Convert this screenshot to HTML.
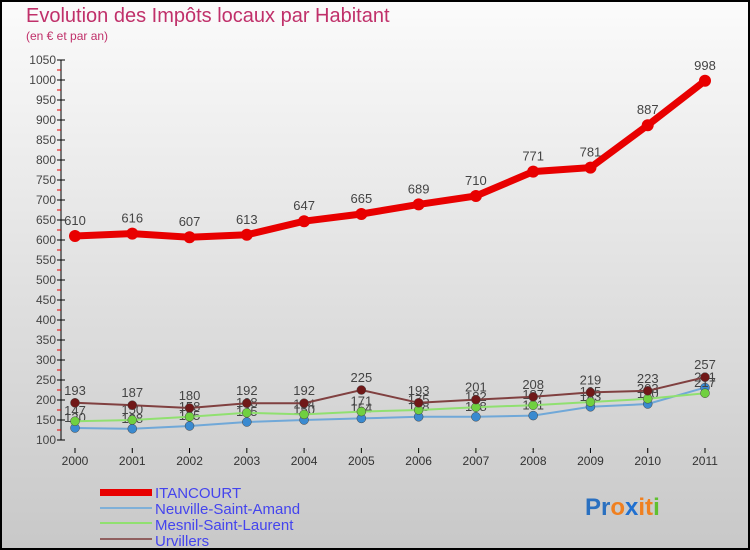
<!DOCTYPE html>
<html><head><meta charset="utf-8"><style>
body{margin:0}
svg{display:block;font-family:"Liberation Sans",sans-serif}
</style></head><body>
<svg id="c" width="750" height="550">
<defs><linearGradient id="bg" x1="0" y1="0" x2="0" y2="1"><stop offset="0" stop-color="#fbfbfb"/><stop offset="1" stop-color="#c8c8c8"/></linearGradient></defs>
<rect x="1" y="1" width="748" height="548" fill="url(#bg)" stroke="#000" stroke-width="2"/>
<text x="26" y="22" font-size="20" fill="#c0306a">Evolution des Impôts locaux par Habitant</text>
<text x="26" y="40" font-size="12" fill="#c0306a">(en € et par an)</text>
<g id="axes"></g><g id="series"></g>
<g font-size="15" fill="#4444ee">
<rect x="100" y="489" width="52" height="7" fill="#e80000"/>
<text x="155" y="498">ITANCOURT</text>
<rect x="100" y="507" width="52" height="2" fill="#7fb0d8"/>
<text x="155" y="514">Neuville-Saint-Amand</text>
<rect x="100" y="522" width="52" height="2" fill="#90e070"/>
<text x="155" y="530">Mesnil-Saint-Laurent</text>
<rect x="100" y="538" width="52" height="2" fill="#906060"/>
<text x="155" y="546">Urvillers</text>
</g>
<text x="585" y="515" font-size="24" font-weight="bold"><tspan fill="#2a70c0">Pr</tspan><tspan fill="#f08020">o</tspan><tspan fill="#2070d0">x</tspan><tspan fill="#f08020">it</tspan><tspan fill="#60c030">i</tspan></text>
</svg>
<script>
const years=[2000,2001,2002,2003,2004,2005,2006,2007,2008,2009,2010,2011];
const itancourt=[610,616,607,613,647,665,689,710,771,781,887,998];
const neuville=[130,128,135,145,150,154,158,158,161,183,190,231];
const mesnil=[147,150,158,168,164,171,175,182,187,195,203,217];
const urvillers=[193,187,180,192,192,225,193,201,208,219,223,257];
const yTicks=[100,150,200,250,300,350,400,450,500,550,600,650,700,750,800,850,900,950,1000,1050];
const NS='http://www.w3.org/2000/svg';
const xs=i=>75+i*(630/11);
const ys=v=>440-(v-100)*0.4;
function mk(t,a,p){const e=document.createElementNS(NS,t);for(const k in a)e.setAttribute(k,a[k]);p.appendChild(e);return e;}
const ax=document.getElementById('axes');
const yl=mk('line',{x1:61,y1:ys(1050),x2:61,y2:ys(100),stroke:'#000'},ax);


yTicks.forEach(v=>{
 mk('line',{x1:57,x2:65,y1:ys(v),y2:ys(v),stroke:'#000'},ax);
 if(v<1050)mk('line',{x1:57,x2:61,y1:ys(v+25),y2:ys(v+25),stroke:'#e00000'},ax);
 const t=mk('text',{x:56,y:ys(v)+4,'text-anchor':'end','font-size':12,fill:'#444'},ax);
 t.textContent=v;
 
 
});
years.forEach((y,i)=>{
 mk('line',{x1:xs(i),x2:xs(i),y1:448,y2:453,stroke:'#000'},ax);
 const t=mk('text',{x:xs(i),y:465,'text-anchor':'middle','font-size':12,fill:'#333'},ax);
 t.textContent=y;
 
 
});
const sg=document.getElementById('series');
function series(data,color,w,r,fill,name,fs,dy){
 const g=mk('g',{},sg);
 
 
 const l=mk('polyline',{points:data.map((v,i)=>xs(i)+','+ys(v)).join(' '),fill:'none',stroke:color,'stroke-width':w},g);
 
 
 data.forEach((v,i)=>{
  const c=mk('circle',{cx:xs(i),cy:ys(v),r:r,fill:fill,stroke:w>3?'none':'#444','stroke-width':0.5},g);
  
  
  const t=mk('text',{x:xs(i),y:ys(v)+dy,'text-anchor':'middle','font-size':fs,fill:'#444'},g);
  t.textContent=v;
  
  
 });
}
series(neuville,'#70a8d8',2,4.5,'#3a8ad0','series-neuville',13,-6);
series(mesnil,'#90e070',2,4.5,'#70d040','series-mesnil',13,-6);
series(urvillers,'#804040',2,4.5,'#701818','series-urvillers',13,-8);
series(itancourt,'#e80000',7,6,'#e80000','series-itancourt',13,-11);
</script>
</body></html>
